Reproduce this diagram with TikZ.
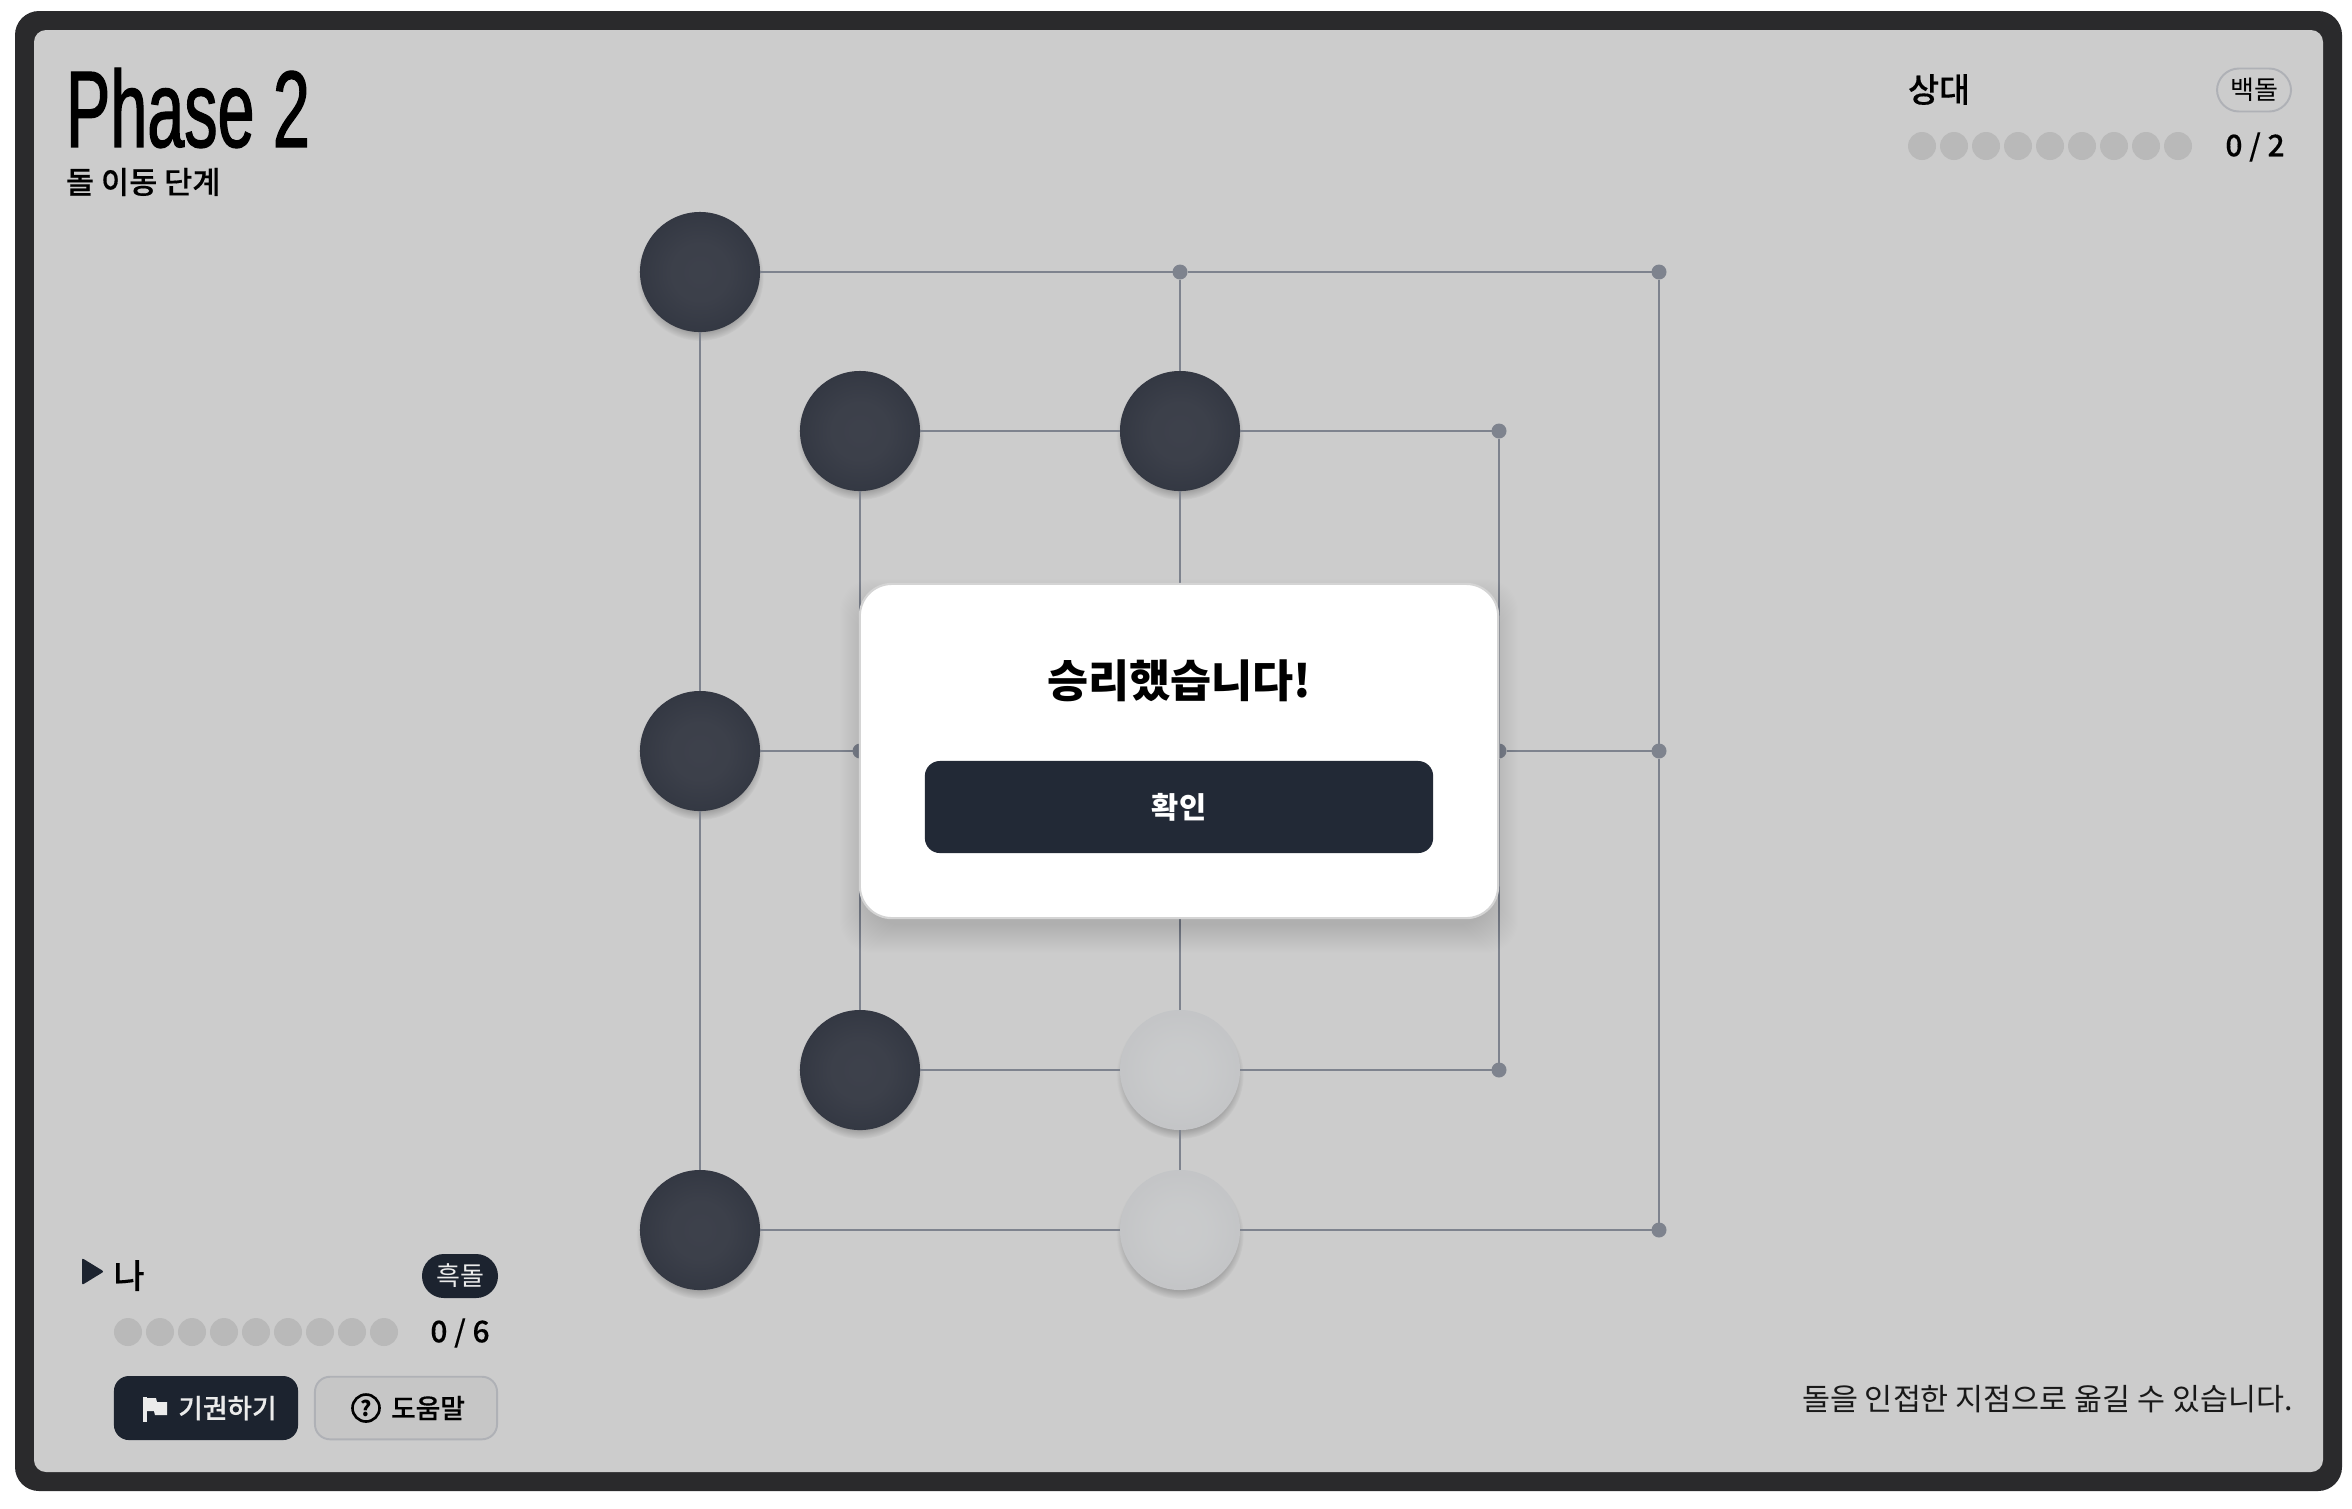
\documentclass[tikz,border=0pt]{standalone}
\usepackage{fontspec}
\usepackage{tikz}
\usetikzlibrary{shadows, fadings}
\setmainfont{Noto Sans CJK KR}
\newfontfamily\krmed[FakeBold=0.35]{Noto Sans CJK KR Medium}
\newfontfamily\titlefont[FakeStretch=0.61,FakeBold=1.1]{Liberation Sans}
\definecolor{framegray}{HTML}{2A2A2C}
\definecolor{boardgray}{HTML}{CCCCCC}
\definecolor{linegray}{HTML}{7E838E}
\definecolor{slotgray}{HTML}{B9B9B9}
\definecolor{navy}{HTML}{1C232F}
\definecolor{oknavy}{HTML}{222936}
\definecolor{edgegray}{HTML}{AFB1B6}
\pgfdeclareradialshading{stonedarkfill}{\pgfpoint{0bp}{0bp}}{
  rgb(0bp)=(0.24,0.255,0.295); rgb(12bp)=(0.235,0.25,0.29); rgb(40bp)=(0.165,0.185,0.23); rgb(50bp)=(0.155,0.175,0.22)}
\pgfdeclareradialshading{stonelightfill}{\pgfpoint{0bp}{0bp}}{
  rgb(0bp)=(0.79,0.795,0.80); rgb(12bp)=(0.785,0.79,0.795); rgb(40bp)=(0.745,0.75,0.76); rgb(50bp)=(0.735,0.74,0.75)}
\tikzset{
  boardline/.style = {draw=linegray, line width=0.02cm},
  stonedark/.style = {circle, minimum size=1.2cm, inner sep=0pt, outer sep=0mm,
    shading=stonedarkfill, circular drop shadow={shadow xshift=0pt, shadow yshift=-1.4pt,
      shadow scale=1.06, opacity=0.6}},
  stonelight/.style = {stonedark, shading=stonelightfill},
  spot/.style = {circle, fill=linegray, minimum size=0.15cm, inner sep=0pt, outer sep=0mm},
  slot/.style = {circle, fill=slotgray, minimum size=0.28cm, inner sep=0pt},
  txt/.style = {inner sep=0pt, outer sep=0mm}
}
\begin{document}
\begin{tikzpicture}[x=0.01cm, y=-0.01cm]
  \useasboundingbox (0,0) rectangle (2352,1508);
  \fill[framegray, rounded corners=0.24cm] (15,11) rectangle (2342,1491);
  \fill[boardgray, rounded corners=0.12cm] (34,30) rectangle (2323,1472);

  % stones and points
  \foreach \nm/\px/\py in {a1/700/272, b2/860/431, d2/1180/431, a4/700/751, b6/860/1070, a7/700/1230}
    \node[stonedark] (\nm) at (\px,\py) {};
  \foreach \nm/\px/\py in {d6/1180/1070, d7/1180/1230}
    \node[stonelight] (\nm) at (\px,\py) {};
  \foreach \nm/\px/\py in {d1/1180/272, g1/1659/272, f2/1499/431, b4/860/751, f4/1499/751,
      g4/1659/751, f6/1499/1070, g7/1659/1230}
    \node[spot] (\nm) at (\px,\py) {};

  % lines
  \foreach \from/\to in {a1/d1, d1/g1, a1/a4, a4/a7, g1/g4, g4/g7, a7/d7, d7/g7,
      b2/d2, d2/f2, b2/b4, b4/b6, f2/f4, f4/f6, b6/d6, d6/f6,
      d1/d2, d2/d6, d6/d7, a4/b4, f4/g4}
    \draw[boardline] (\from) -- (\to);

  % dialog
  \foreach \i in {-8,...,20}
    \fill[black, opacity=0.0055, rounded corners=0.32cm]
      ({860-\i},{599-\i}) rectangle ({1498+\i},{933+\i});
  \node[draw=black!17, fill=white, line width=0.6pt, rounded corners=0.32cm,
    minimum width=6.38cm, minimum height=3.34cm, inner sep=0pt] (dialog) at (1179,751) {};
  \node[txt, font=\bfseries\fontsize{12.7}{15}\selectfont] (wintext) at (1179.5,681) {승리했습니다!};
  \node[fill=oknavy, rounded corners=0.15cm, minimum width=5.08cm, minimum height=0.92cm,
    inner sep=0pt, text=white, font=\bfseries\fontsize{8.4}{10}\selectfont] (okbtn) at (1179,807) {확인};

  % header
  \node[txt, anchor=west, font=\titlefont\fontsize{31}{36}\selectfont] (phase) at (66,108) {Phase 2};
  \node[txt, anchor=west, font=\krmed\fontsize{8.7}{10}\selectfont] (phasesub) at (66,182) {돌 이동 단계};

  % opponent
  \node[txt, anchor=west, font=\krmed\fontsize{9.6}{11}\selectfont] (opname) at (1908,89.5) {상대};
  \node[draw=edgegray, line width=0.55pt, rounded corners=0.22cm, minimum width=0.74cm,
    minimum height=0.43cm, inner sep=0pt, font=\fontsize{7.4}{9}\selectfont] (opbadge) at (2254,90) {백돌};
  \foreach \i in {0,...,8}
    \node[slot] (opslot\i) at ({1922+32*\i},146) {};
  \node[txt, font=\krmed\fontsize{8.5}{9}\selectfont] (opscore) at (2255,147) {0 / 2};

  % player
  \fill[navy, rounded corners=0.02cm] (82,1258) -- (104,1271.5) -- (82,1285) -- cycle;
  \node[txt, anchor=west, font=\krmed\fontsize{9.6}{11}\selectfont] (mename) at (113.5,1275.5) {나};
  \node[fill=navy, rounded corners=0.22cm, minimum width=0.76cm, minimum height=0.44cm,
    inner sep=0pt, text=black!8, font=\fontsize{7.4}{9}\selectfont] (mebadge) at (460,1276) {흑돌};
  \foreach \i in {0,...,8}
    \node[slot] (meslot\i) at ({128+32*\i},1332) {};
  \node[txt, font=\krmed\fontsize{8.5}{9}\selectfont] (mescore) at (460,1333) {0 / 6};

  % buttons
  \node[fill=navy, rounded corners=0.15cm, minimum width=1.84cm, minimum height=0.64cm] (giveup) at (206,1408) {};
  \node[txt, text=black!8, font=\krmed\fontsize{7.6}{9}\selectfont] (giveuptext) at (227.5,1408) {기권하기};
  \fill[black!8] (143,1397) rectangle (146.5,1422);
  \fill[black!8] (146.5,1398) -- (156,1398) -- (157,1402) -- (167,1402) -- (167,1415) -- (155,1415) -- (154,1411) -- (146.5,1411) -- cycle;
  \node[draw=edgegray, fill=black!3!boardgray, line width=0.55pt, rounded corners=0.15cm,
    minimum width=1.82cm, minimum height=0.625cm] (helpbtn) at (406,1408) {};
  \node[circle, draw=black, line width=0.75pt, minimum size=0.27cm, inner sep=0pt,
    font=\bfseries\fontsize{6}{6}\selectfont] (helpmark) at (366,1408) {?};
  \node[txt, font=\krmed\fontsize{7.6}{9}\selectfont] (helptext) at (428,1408) {도움말};

  % hint
  \node[txt, anchor=east, text=black!90, font=\fontsize{8.65}{10}\selectfont] (hint) at (2292.5,1399.5)
    {돌을 인접한 지점으로 옮길 수 있습니다.};
\end{tikzpicture}
\end{document}
